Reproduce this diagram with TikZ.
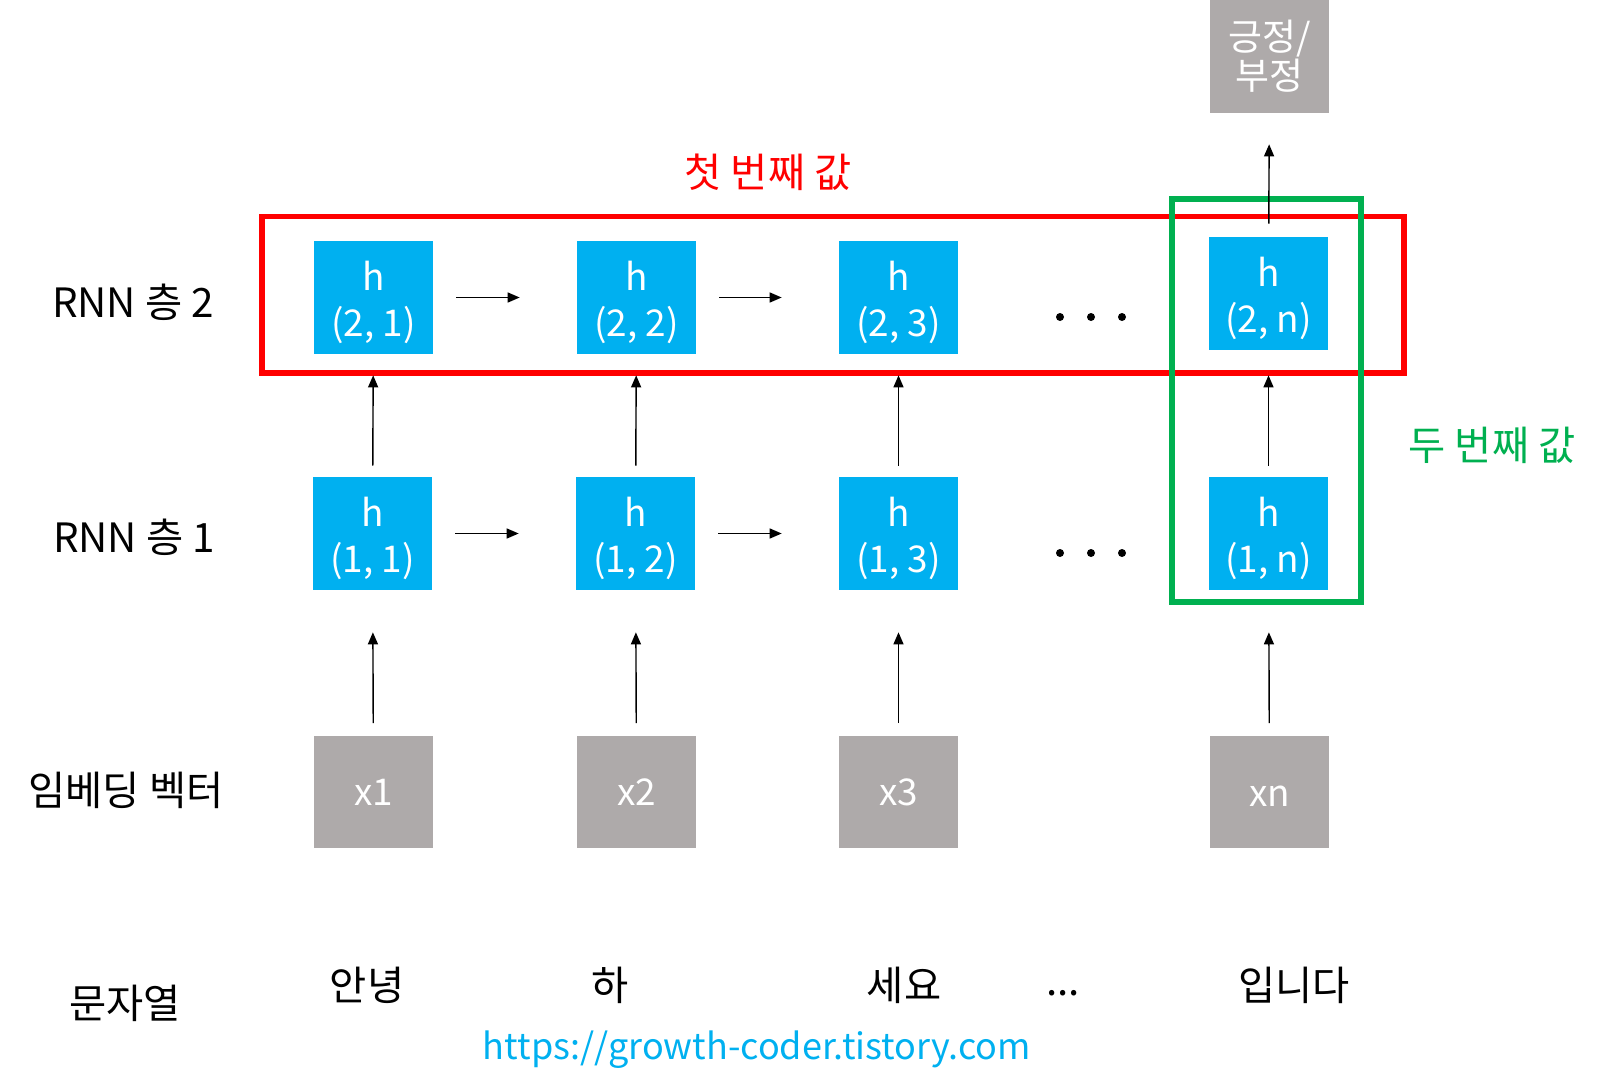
\documentclass[tikz,border=0pt]{standalone}
\usepackage{fontspec}
\setmainfont{Noto Sans CJK KR}
\usetikzlibrary{arrows.meta}
\definecolor{cellblue}{HTML}{00B0F0}
\definecolor{vecgray}{HTML}{AEAAAA}
\definecolor{boxred}{HTML}{FF0000}
\definecolor{boxgreen}{HTML}{00B050}

\begin{document}
\begin{tikzpicture}[
    x=0.02cm, y=-0.02cm,
    >={Triangle[length=0.24cm,width=0.2cm]},
    vec/.style={
        fill=vecgray,
        text=white,
        minimum width=2.38cm,
        minimum height=2.26cm,
        inner sep=0pt,
        align=center,
        font=\fontsize{21}{22}\selectfont
    },
    cell/.style={
        vec,
        fill=cellblue,
        text height=50pt,
        text depth=6pt,
        font=\fontsize{21}{26}\selectfont
    },
    lbl/.style={font=\fontsize{23}{28}\selectfont},
    arr/.style={->, line width=0.8pt},
    hilite/.style={line width=3.4pt}
]
    \useasboundingbox (0,0) rectangle (1605,1091);

    \node[cell] (h21) at (373.5,297.5) {h\\(2, 1)};
    \node[cell] (h22) at (636.5,297.5) {h\\(2, 2)};
    \node[cell] (h23) at (898.5,297.5) {h\\(2, 3)};
    \node[cell] (h2n) at (1268.5,293.5) {h\\(2, n)};

    \node[cell] (h11) at (372.5,533.5) {h\\(1, 1)};
    \node[cell] (h12) at (635.5,533.5) {h\\(1, 2)};
    \node[cell] (h13) at (898.5,533.5) {h\\(1, 3)};
    \node[cell] (h1n) at (1268.5,533.5) {h\\(1, n)};

    \node[vec] (x1) at (373.5,792) {x1};
    \node[vec] (x2) at (636.5,792) {x2};
    \node[vec] (x3) at (898.5,792) {x3};
    \node[vec, text height=18pt, text depth=2pt] (xn) at (1269.5,792) {xn};

    \node[vec] (out) at (1269.5,56.5) {긍정/\\부정};

    \node[lbl] (layer2) at (133,302) {RNN 층 2};
    \node[lbl] (layer1) at (134,537) {RNN 층 1};
    \node[lbl] (embed) at (126,790) {임베딩 벡터};
    \node[lbl] (text) at (125,1003) {문자열};

    \node[lbl] (w1) at (367,985) {안녕};
    \node[lbl] (w2) at (610,985) {하};
    \node[lbl] (w3) at (904,985) {세요};
    \node[lbl] (wdots) at (1063,993) {...};
    \node[lbl] (wn) at (1294,985) {입니다};

    \node[font=\fontsize{20.5}{24}\selectfont, text=cellblue] (url) at (757,1050) {https://growth-coder.tistory.com};

    % highlighted outputs
    \draw[hilite, boxred] (262,216.5) rectangle (1404,373);
    \draw[hilite, boxgreen] (1172,199) rectangle (1361,602);
    \node[lbl, text=boxred] (first) at (768,172) {첫 번째 값};
    \node[lbl, text=boxgreen] (second) at (1492,445) {두 번째 값};

    \foreach \px in {1060,1091,1122} {
        \fill (\px,317) circle (0.08cm);
        \fill (\px,553) circle (0.08cm);
    }

    \draw[arr, shorten <=0.46cm, shorten >=1.14cm] (h21) -- (h22);
    \draw[arr, shorten <=0.46cm, shorten >=1.14cm] (h22) -- (h23);
    \draw[arr, shorten <=0.46cm, shorten >=1.14cm] (h11) -- (h12);
    \draw[arr, shorten <=0.46cm, shorten >=1.14cm] (h12) -- (h13);

    \draw[arr, shorten <=0.22cm, shorten >=0.42cm] (h11) -- (h21);
    \draw[arr, shorten <=0.22cm, shorten >=0.42cm] (h12) -- (h22);
    \draw[arr, shorten <=0.22cm, shorten >=0.42cm] (h13) -- (h23);
    \draw[arr, shorten <=0.22cm, shorten >=0.5cm] (h1n) -- (h2n);

    \draw[arr, shorten <=0.24cm, shorten >=0.84cm] (x1) -- (h11);
    \draw[arr, shorten <=0.24cm, shorten >=0.84cm] (x2) -- (h12);
    \draw[arr, shorten <=0.24cm, shorten >=0.84cm] (x3) -- (h13);
    \draw[arr, shorten <=0.24cm, shorten >=0.84cm] (xn) -- (h1n);

    \draw[arr, shorten <=0.26cm, shorten >=0.62cm] (h2n) -- (out);
\end{tikzpicture}
\end{document}
